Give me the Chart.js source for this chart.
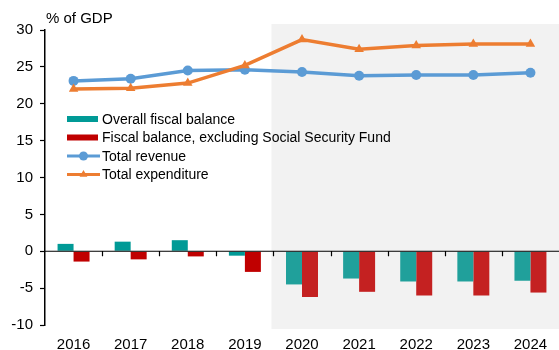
<!DOCTYPE html>
<html>
<head>
<meta charset="utf-8">
<script src="https://cdn.jsdelivr.net/npm/chart.js@4/dist/chart.umd.min.js"></script>
<style>
  body { margin: 0; background: #fff; }
  #wrap { position: relative; width: 559px; height: 350px; }
</style>
</head>
<body>
<div id="wrap"><canvas id="chart" width="559" height="350"></canvas></div>
<script>
// values
const years = ['2016', '2017', '2018', '2019', '2020', '2021', '2022', '2023', '2024'];
const overallBalance = [1.0, 1.3, 1.5, -0.6, -4.5, -3.7, -4.1, -4.1, -4.0];
const balanceExSSF = [-1.4, -1.1, -0.7, -2.8, -6.2, -5.5, -6.0, -6.0, -5.6];
const revenue = [23.1, 23.4, 24.5, 24.6, 24.3, 23.8, 23.9, 23.9, 24.2];
const expenditure = [22.0, 22.1, 22.8, 25.2, 28.7, 27.4, 27.9, 28.1, 28.1];
const yTicks = [-10, -5, 0, 5, 10, 15, 20, 25, 30];
const firstProjection = '2020';

const FONT = '"Liberation Sans", Arial, sans-serif';
const tealCol = years.map(y => y < firstProjection ? '#009a96' : '#20a09b');
const redCol = years.map(y => y < firstProjection ? '#c00000' : '#c42121');

// grey box behind the projection years + x tick marks on the zero line
const extrasPlugin = {
  id: 'extras',
  beforeDatasetsDraw(chart) {
    const { ctx, chartArea, scales } = chart;
    const x = scales.x;
    const idx = years.indexOf(firstProjection);
    const left = (x.getPixelForValue(idx - 1) + x.getPixelForValue(idx)) / 2 - 2;
    ctx.save();
    ctx.fillStyle = '#f2f2f2';
    ctx.fillRect(left, chartArea.top - 6, chartArea.right - left, chartArea.bottom - chartArea.top + 10);
    ctx.restore();
  },
  afterDatasetsDraw(chart) {
    const { ctx, scales } = chart;
    const x = scales.x, y = scales.y;
    const y0 = y.getPixelForValue(0);
    ctx.save();
    ctx.strokeStyle = '#000';
    ctx.lineWidth = 1.2;
    ctx.beginPath();
    ctx.moveTo(chart.chartArea.left, y0);
    ctx.lineTo(chart.chartArea.right, y0);
    for (let i = 1; i < years.length; i++) {
      const bx = Math.round((x.getPixelForValue(i - 1) + x.getPixelForValue(i)) / 2) + 0.5;
      ctx.moveTo(bx, y0);
      ctx.lineTo(bx, y0 + 5);
    }
    ctx.stroke();
    ctx.restore();
  },
  afterDraw(chart) {
    const { ctx, chartArea } = chart;
    ctx.save();
    ctx.fillStyle = '#000';
    ctx.font = '15px ' + FONT;
    ctx.textBaseline = 'alphabetic';
    ctx.fillText('% of GDP', chartArea.left + 1, 23);

    // legend
    const lx = 67, tx = 102, rowY = [119, 137.5, 156, 174.5];
    ctx.font = '14px ' + FONT;
    ctx.textBaseline = 'middle';
    chart.data.datasets.forEach((ds, i) => {
      const yy = rowY[i];
      if (ds.type === 'bar') {
        ctx.fillStyle = ds.legendColor;
        ctx.fillRect(lx, yy - 3, 31, 6);
      } else {
        ctx.strokeStyle = ds.borderColor;
        ctx.lineWidth = 3;
        ctx.beginPath();
        ctx.moveTo(lx, yy);
        ctx.lineTo(lx + 33, yy);
        ctx.stroke();
        ctx.fillStyle = ds.borderColor;
        Chart.helpers.drawPoint(ctx, { pointStyle: ds.pointStyle, radius: 4.5, rotation: 0, borderWidth: 0 }, lx + 16.5, yy);
      }
      ctx.fillStyle = '#000';
      ctx.fillText(ds.label, tx, yy + 1);
    });
    ctx.restore();
  }
};

const data = {
  labels: years,
  datasets: [
    {
      type: 'bar',
      label: 'Overall fiscal balance',
      data: overallBalance,
      backgroundColor: tealCol,
      legendColor: '#009a96',
      categoryPercentage: 0.56,
      barPercentage: 1.0,
      order: 2
    },
    {
      type: 'bar',
      label: 'Fiscal balance, excluding Social Security Fund',
      data: balanceExSSF,
      backgroundColor: redCol,
      legendColor: '#c00000',
      categoryPercentage: 0.56,
      barPercentage: 1.0,
      order: 2
    },
    {
      type: 'line',
      label: 'Total revenue',
      data: revenue,
      borderColor: '#5b9bd5',
      backgroundColor: '#5b9bd5',
      borderWidth: 3.5,
      pointStyle: 'circle',
      pointRadius: 5,
      pointBorderWidth: 0,
      tension: 0,
      order: 1
    },
    {
      type: 'line',
      label: 'Total expenditure',
      data: expenditure,
      borderColor: '#ed7d31',
      backgroundColor: '#ed7d31',
      borderWidth: 3.5,
      pointStyle: 'triangle',
      pointRadius: 5.5,
      pointBorderWidth: 0,
      tension: 0,
      order: 0
    }
  ]
};

new Chart(document.getElementById('chart'), {
  type: 'bar',
  data: data,
  plugins: [extrasPlugin],
  options: {
    responsive: false,
    animation: false,
    layout: { autoPadding: false, padding: { top: 30, right: 0, left: 0, bottom: 0 } },
    plugins: {
      legend: { display: false },
      tooltip: { enabled: false }
    },
    scales: {
      x: {
        grid: { display: false, drawTicks: false },
        border: { display: false },
        ticks: { color: '#000', font: { family: FONT, size: 15 }, padding: 11, maxRotation: 0 },
        afterFit: (scale) => {
          scale.height = 25;
          scale.paddingLeft = 0;
          scale.paddingRight = 0;
        }
      },
      y: {
        min: -10,
        max: 30,
        afterBuildTicks: (scale) => { scale.ticks = yTicks.map(v => ({ value: v })); },
        grid: {
          drawOnChartArea: false,
          tickLength: 5,
          tickColor: '#000',
          tickWidth: 1.2
        },
        border: { display: true, color: '#000', width: 1.5 },
        ticks: { color: '#000', font: { family: FONT, size: 15 }, padding: 7 },
        afterFit: (scale) => { scale.width = 45; }
      }
    }
  }
});
</script>
</body>
</html>
